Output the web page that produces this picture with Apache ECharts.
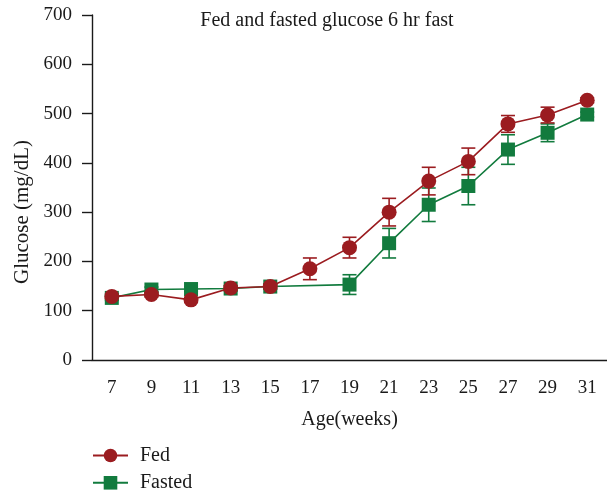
<!DOCTYPE html>
<html>
<head>
<meta charset="utf-8">
<script src="https://cdn.jsdelivr.net/npm/echarts@6/dist/echarts.min.js"></script>
<style>
  html, body { margin: 0; padding: 0; background: #fff; }
  #chart { width: 607px; height: 492px; }
</style>
</head>
<body>
<div id="chart"></div>
<script>
// Age in weeks
const ages = ['7', '9', '11', '13', '15', '17', '19', '21', '23', '25', '27', '29', '31'];
// Blood glucose (mg/dL), mean and error
const fedMean = [129, 133, 122, 146, 149, 185, 228, 300, 363, 403, 479, 497, 527];
const fedErr = [5, 5, 5, 5, 5, 22, 21, 28, 28, 27, 17, 16, 5];
const fastedMean = [126, 143, 144, 145, 149, null, 153, 237, 315, 353, 427, 461, 498];
const fastedErr = [5, 5, 5, 5, 5, null, 20, 30, 34, 38, 30, 18, 5];
const yTicks = [0, 100, 200, 300, 400, 500, 600, 700];
const seriesNames = ['Fed', 'Fasted'];

const FED = '#9b1c20';
const FASTED = '#127b3e';
const INK = '#1a1a1a';
const SERIF = 'Liberation Serif';
const FONT = (px) => px + 'px "Liberation Serif", serif';

function errData(means, errs) {
  const out = [];
  means.forEach((m, i) => {
    if (m !== null && errs[i] !== null) out.push([i, m, errs[i]]);
  });
  return out;
}

function errRender(color) {
  return function (params, api) {
    const i = api.value(0), m = api.value(1), e = api.value(2);
    const top = api.coord([i, m + e]);
    const bot = api.coord([i, m - e]);
    const hw = 7;
    const style = { stroke: color, lineWidth: 1.6 };
    return {
      type: 'group',
      children: [
        { type: 'line', shape: { x1: top[0], y1: top[1], x2: bot[0], y2: bot[1] }, style },
        { type: 'line', shape: { x1: top[0] - hw, y1: top[1], x2: top[0] + hw, y2: top[1] }, style },
        { type: 'line', shape: { x1: bot[0] - hw, y1: bot[1], x2: bot[0] + hw, y2: bot[1] }, style }
      ]
    };
  };
}

const chart = echarts.init(document.getElementById('chart'), null, { renderer: 'canvas' });

chart.setOption({
  animation: false,
  backgroundColor: '#fff',
  textStyle: { fontFamily: SERIF },
  grid: { left: 92, top: 15, width: 516, height: 345, containLabel: false },
  graphic: [
    {
      type: 'text', x: 327, y: 21,
      style: { text: 'Fed and fasted glucose 6 hr fast', font: FONT(20), fill: INK, align: 'center', verticalAlign: 'middle' }
    },
    {
      type: 'text', x: 22, y: 212, rotation: Math.PI / 2,
      style: { text: 'Glucose (mg/dL)', font: FONT(21), fill: INK, align: 'center', verticalAlign: 'middle' }
    },
    // legend captions, set beside the legend swatches
    {
      type: 'text', x: 140, y: 456,
      style: { text: seriesNames[0], font: FONT(20), fill: INK, align: 'left', verticalAlign: 'middle' }
    },
    {
      type: 'text', x: 140, y: 483,
      style: { text: seriesNames[1], font: FONT(20), fill: INK, align: 'left', verticalAlign: 'middle' }
    }
  ],
  legend: {
    data: seriesNames,
    orient: 'vertical',
    left: 92, top: 447, height: 60, padding: 0,
    itemWidth: 35, itemHeight: 17, itemGap: 12,
    formatter: () => '',
    textStyle: { fontSize: 1 }
  },
  xAxis: {
    type: 'category',
    data: ages,
    boundaryGap: true,
    name: 'Age(weeks)',
    nameLocation: 'middle',
    nameGap: 50,
    nameTextStyle: { fontFamily: SERIF, fontSize: 20, color: INK },
    axisLine: { lineStyle: { color: INK, width: 1.4 } },
    axisTick: { alignWithLabel: true, length: 8, lineStyle: { color: INK, width: 1.4 } },
    axisLabel: { margin: 19, fontFamily: SERIF, fontSize: 19, color: INK },
    splitLine: { show: false }
  },
  yAxis: {
    type: 'value',
    min: yTicks[0], max: yTicks[yTicks.length - 1], interval: 100,
    axisLine: { show: true, lineStyle: { color: INK, width: 1.4 } },
    axisTick: { show: true, length: 10, lineStyle: { color: INK, width: 1.4 } },
    axisLabel: { margin: 20, fontFamily: SERIF, fontSize: 19, color: INK },
    splitLine: { show: false }
  },
  series: [
    {
      name: 'Fasted error', type: 'custom', z: 1,
      renderItem: errRender(FASTED),
      encode: { x: 0, y: 1 },
      data: errData(fastedMean, fastedErr)
    },
    {
      name: 'Fed error', type: 'custom', z: 1,
      renderItem: errRender(FED),
      encode: { x: 0, y: 1 },
      data: errData(fedMean, fedErr)
    },
    {
      name: seriesNames[1], type: 'line', z: 3,
      data: fastedMean,
      connectNulls: true,
      symbol: 'rect', symbolSize: 14,
      itemStyle: { color: FASTED },
      lineStyle: { color: FASTED, width: 1.6 }
    },
    {
      name: seriesNames[0], type: 'line', z: 4,
      data: fedMean,
      symbol: 'circle', symbolSize: 15,
      itemStyle: { color: FED },
      lineStyle: { color: FED, width: 1.6 }
    }
  ]
});
</script>
</body>
</html>
